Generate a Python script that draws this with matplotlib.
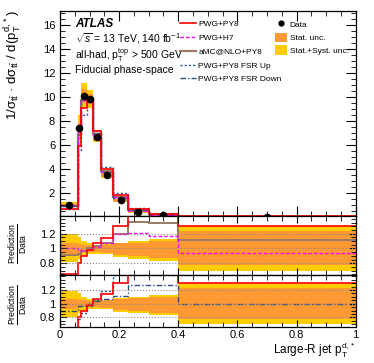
import numpy as np
import matplotlib
matplotlib.use('Agg')
import matplotlib.pyplot as plt
from matplotlib.ticker import MultipleLocator, FixedLocator, FuncFormatter
from matplotlib.lines import Line2D
from matplotlib.patches import Patch

plt.rcParams['font.family'] = ['Liberation Sans', 'DejaVu Sans']
plt.rcParams['mathtext.fontset'] = 'custom'
plt.rcParams['mathtext.rm'] = 'Liberation Sans'
plt.rcParams['mathtext.it'] = 'Liberation Sans:italic'
plt.rcParams['mathtext.bf'] = 'Liberation Sans:bold'
plt.rcParams['mathtext.sf'] = 'Liberation Sans'

# bins of large-R jet pT^{d,*}
edges = [0, 0.06, 0.07, 0.09, 0.11, 0.14, 0.18, 0.23, 0.3, 0.4, 1.0]

# unfolded data (normalised)
data = [1.05, 7.40, 10.15, 9.90, 6.72, 3.55, 1.43, 0.45, 0.17, 0.05]

# relative uncertainties (up / down)
syst_up = [0.19, 0.15, 0.10, 0.07, 0.05, 0.06, 0.08, 0.10, 0.13, 0.30]
syst_dn = [0.19, 0.14, 0.10, 0.08, 0.07, 0.08, 0.12, 0.14, 0.17, 0.30]
stat_up = [0.07, 0.06, 0.05, 0.04, 0.04, 0.05, 0.07, 0.08, 0.10, 0.23]
stat_dn = [0.07, 0.06, 0.05, 0.05, 0.05, 0.06, 0.09, 0.10, 0.13, 0.22]

# predictions, main panel
pwg_py8 = [0.68, 5.92, 9.14, 9.70, 7.19, 4.05, 1.86, 0.68, 0.26, 0.065]
pwg_h7 = [1.05, 7.25, 9.74, 9.80, 6.85, 3.80, 1.70, 0.54, 0.20, 0.047]
amc_py8 = [0.96, 6.88, 9.74, 9.90, 6.92, 3.83, 1.72, 0.61, 0.23, 0.056]
fsr_up = [0.65, 5.60, 8.50, 9.60, 7.15, 4.20, 1.98, 0.75, 0.28, 0.07]
fsr_dn = [0.95, 7.20, 9.85, 9.90, 7.00, 3.80, 1.60, 0.57, 0.22, 0.05]

# prediction / data
r_pwg_py8 = [0.65, 0.80, 0.90, 0.98, 1.07, 1.14, 1.30, 1.44, 1.44, 1.30]
r_pwg_h7 = [1.00, 0.98, 0.96, 0.99, 1.02, 1.07, 1.19, 1.21, 1.17, 0.94]
r_amc_py8 = [0.91, 0.93, 0.96, 1.00, 1.03, 1.08, 1.20, 1.36, 1.34, 1.11]
r_fsr_up = [0.62, 0.78, 0.86, 0.97, 1.05, 1.18, 1.42, 1.42, 1.42, 1.42]
r_fsr_dn = [0.90, 0.97, 0.97, 1.00, 1.04, 1.07, 1.12, 1.27, 1.27, 1.00]

c_red = '#ff0000'
c_mag = '#ff00ff'
c_brown = '#9c7a64'
c_blue = '#1f4e99'
c_blue2 = '#2f4f7f'
c_yel = '#ffcc00'
c_ora = '#ff9933'

e = np.array(edges)
w = np.diff(e)
d = np.array(data)
centers = e[:-1] + w / 2

fig = plt.figure(figsize=(3.74, 3.63), dpi=100)
left, width = 0.1604, 0.7906
ax = fig.add_axes([left, 0.405, width, 0.5647])
ax1 = fig.add_axes([left, 0.2424, width, 0.1626])
ax2 = fig.add_axes([left, 0.0992, width, 0.1432])

# main panel
ax.bar(e[:-1], d * (np.array(syst_up) + np.array(syst_dn)), bottom=d * (1 - np.array(syst_dn)),
       width=w, align='edge', color=c_yel, lw=0)
ax.bar(e[:-1], d * (np.array(stat_up) + np.array(stat_dn)), bottom=d * (1 - np.array(stat_dn)),
       width=w, align='edge', color=c_ora, lw=0)
ax.stairs(amc_py8, edges, baseline=None, color=c_brown, lw=1.6)
ax.stairs(fsr_up, edges, baseline=None, color=c_blue, lw=1.0, ls=(0, (1.5, 1.5)))
ax.stairs(fsr_dn, edges, baseline=None, color=c_blue2, lw=1.0, ls=(0, (4, 1.5, 1, 1.5)))
ax.stairs(pwg_h7, edges, baseline=None, color=c_mag, lw=1.0, ls=(0, (2.5, 1.5)))
ax.stairs(pwg_py8, edges, baseline=None, color=c_red, lw=1.2)
ax.plot(centers, d, 'o', color='black', ms=4.5, zorder=5)

ax.set_xlim(0, 1)
ax.set_ylim(0.1, 17.2)
ax.yaxis.set_major_locator(MultipleLocator(2))
ax.yaxis.set_minor_locator(MultipleLocator(0.5))
fig.text(0.036, 0.972,
         r'1/σ$_{\mathrm{t\bar{t}}}$ · dσ$_{\mathrm{t\bar{t}}}$ / d(p$_{\mathrm{T}}^{\mathrm{d,*}}$)',
         rotation=90, fontsize=9.5, ha='center', va='top')

ax.text(0.05, 0.935, 'ATLAS', transform=ax.transAxes, fontsize=8.5, fontweight='bold',
        fontstyle='italic', va='center')
ax.text(0.05, 0.865, r'$\sqrt{s}$ = 13 TeV, 140 fb$^{-1}$', transform=ax.transAxes, fontsize=7.5, va='center')
ax.text(0.05, 0.787, r'all-had, p$_{\mathrm{T}}^{\mathrm{top}}$ > 500 GeV', transform=ax.transAxes,
        fontsize=7.5, va='center')
ax.text(0.05, 0.71, 'Fiducial phase-space', transform=ax.transAxes, fontsize=7.5, va='center')

h1 = [Line2D([], [], color=c_red, lw=1.2),
      Line2D([], [], color=c_mag, lw=1.0, ls=(0, (2.5, 1.5))),
      Line2D([], [], color=c_brown, lw=1.6),
      Line2D([], [], color=c_blue, lw=1.0, ls=(0, (1.5, 1.5))),
      Line2D([], [], color=c_blue2, lw=1.0, ls=(0, (4, 1.5, 1, 1.5)))]
l1 = ['PWG+PY8', 'PWG+H7', 'aMC@NLO+PY8', 'PWG+PY8 FSR Up', 'PWG+PY8 FSR Down']
leg1 = ax.legend(h1, l1, loc='upper left', bbox_to_anchor=(0.405, 0.955), frameon=False, fontsize=6,
                 handlelength=1.9, handletextpad=0.35, labelspacing=0.72, borderaxespad=0, borderpad=0)
ax.add_artist(leg1)
h2 = [Line2D([], [], marker='o', color='black', ls='none', ms=3.5),
      Patch(color=c_ora, lw=0), Patch(color=c_yel, lw=0)]
l2 = ['Data', 'Stat. unc.', 'Stat.+Syst. unc.']
ax.legend(h2, l2, loc='upper left', bbox_to_anchor=(0.728, 0.957), frameon=False, fontsize=6,
          handlelength=1.45, handleheight=1.3, handletextpad=0.3, labelspacing=0.42,
          borderaxespad=0, borderpad=0)

# ratio panels
def ratio_panel(a, curves, ylo, yhi):
    a.bar(e[:-1], np.array(syst_up) + np.array(syst_dn), bottom=1 - np.array(syst_dn),
          width=w, align='edge', color=c_yel, lw=0)
    a.bar(e[:-1], np.array(stat_up) + np.array(stat_dn), bottom=1 - np.array(stat_dn),
          width=w, align='edge', color=c_ora, lw=0)
    for yy in [0.8, 1.0, 1.2]:
        a.axhline(yy, color='#888888', lw=0.8, ls=':')
    for vals, kw in curves:
        a.stairs(vals, edges, baseline=None, **kw)
    a.set_xlim(0, 1)
    a.set_ylim(ylo, yhi)
    a.yaxis.set_major_locator(FixedLocator([0.8, 1.0, 1.2]))
    a.yaxis.set_minor_locator(MultipleLocator(0.05))
    a.yaxis.set_major_formatter(FuncFormatter(lambda v, p: '%g' % v))

ratio_panel(ax1, [(r_amc_py8, dict(color=c_brown, lw=1.4)),
                  (r_pwg_h7, dict(color=c_mag, lw=1.0, ls=(0, (2.5, 1.5)))),
                  (r_pwg_py8, dict(color=c_red, lw=1.2))], 0.64, 1.44)
ratio_panel(ax2, [(r_fsr_up, dict(color=c_blue, lw=1.0, ls=(0, (1.5, 1.5)))),
                  (r_fsr_dn, dict(color=c_blue2, lw=1.0, ls=(0, (4, 1.5, 1, 1.5)))),
                  (r_pwg_py8, dict(color=c_red, lw=1.2))], 0.66, 1.42)

for a in [ax, ax1, ax2]:
    a.xaxis.set_major_locator(MultipleLocator(0.2))
    a.xaxis.set_minor_locator(MultipleLocator(0.05))
    a.tick_params(which='both', direction='in', top=True, right=True, labelsize=8)
    a.tick_params(which='major', length=7, width=0.8)
    a.tick_params(which='minor', length=3.5, width=0.6)
    for s in a.spines.values():
        s.set_linewidth(0.9)
ax1.tick_params(which='major', length=5)
ax2.tick_params(which='major', length=5)
ax2.tick_params(axis='x', pad=2)
ax.tick_params(labelbottom=False)
ax1.tick_params(labelbottom=False)
ax2.xaxis.set_major_formatter(FuncFormatter(lambda v, p: '%g' % v))

for y0 in [0.33, 0.16]:
    fig.text(0.047, y0, r'$\frac{\mathrm{Prediction}}{\mathrm{Data}}$', rotation=90,
             fontsize=9, ha='center', va='center')

fig.text(0.951, 0.008, r'Large-R jet p$_{\mathrm{T}}^{\mathrm{d,*}}$', fontsize=8.5, ha='right', va='bottom')

fig.savefig('out.png', dpi=100)
